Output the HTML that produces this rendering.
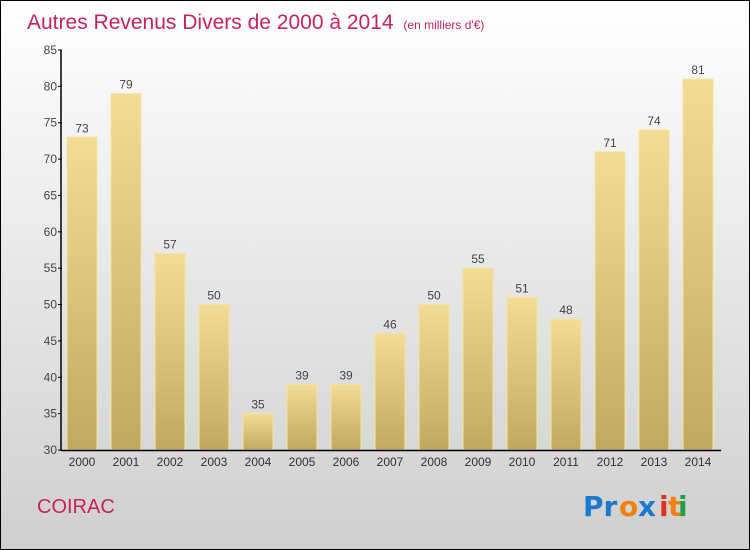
<!DOCTYPE html>
<html><head><meta charset="utf-8"><style>
body{margin:0}
#c{position:relative;width:748px;height:548px;border:1px solid #000;background:linear-gradient(#ffffff,#cfcfcf);font-family:"Liberation Sans",sans-serif;overflow:hidden}
</style></head><body>
<div id="c">
<svg id="s" width="748" height="548" xmlns="http://www.w3.org/2000/svg">
<defs><linearGradient id="g" x1="0" y1="0" x2="0" y2="1"><stop offset="0" stop-color="#f3dc95"/><stop offset="1" stop-color="#c2a962"/></linearGradient></defs>
<text x="26" y="28" font-size="21" fill="#c8245a">Autres Revenus Divers de 2000 à 2014 <tspan font-size="12" dx="4">(en milliers d'€)</tspan></text>
<text x="36" y="512" font-size="20" fill="#c8245a">COIRAC</text>
<g font-size="28" font-weight="bold" font-family="'DejaVu Sans',sans-serif">
<text x="582" y="515" fill="#1a7ad0">Pr</text><text x="618" y="515" fill="#f08010">o</text><text x="637" y="515" fill="#1a7ad0">x</text><text x="658" y="515" fill="#e03020">i</text><text x="667" y="515" fill="#f08010">t</text><text x="677" y="515" fill="#20a040">i</text></g>
<g id="bars"></g><g id="axes"></g>
</svg></div>
<script>
const years=["2000","2001","2002","2003","2004","2005","2006","2007","2008","2009","2010","2011","2012","2013","2014"];
const values=[73,79,57,50,35,39,39,46,50,55,51,48,71,74,81];
const yTicks=[30,35,40,45,50,55,60,65,70,75,80,85];
const NS="http://www.w3.org/2000/svg";
const y0=449,y1=49,vmin=30,vmax=85;
const Y=v=>y0-(v-vmin)/(vmax-vmin)*(y0-y1);
const X=i=>81+i*44;
const bars=document.getElementById('bars'),axes=document.getElementById('axes');
function mk(t,a,p){const e=document.createElementNS(NS,t);for(const k in a)e.setAttribute(k,a[k]);p.appendChild(e);return e;}
values.forEach((v,i)=>{
const r=mk('rect',{x:X(i)-15,y:Y(v),width:30,height:y0-Y(v),fill:'url(#g)',stroke:'#f5e3a0','stroke-width':1},bars);


const t=mk('text',{x:X(i),y:Y(v)-5,'text-anchor':'middle','font-size':12,fill:'#444'},bars);t.textContent=v;


const xl=mk('text',{x:X(i),y:y0+16,'text-anchor':'middle','font-size':12,fill:'#333'},axes);xl.textContent=years[i];


});
const ya=mk('line',{x1:60,y1:y1,x2:60,y2:y0+1,stroke:'#000','stroke-width':1.5},axes);


const xa=mk('line',{x1:60,y1:y0+0.5,x2:720,y2:y0+0.5,stroke:'#000','stroke-width':1.5},axes);


yTicks.forEach(v=>{
mk('line',{x1:57,y1:Y(v),x2:61,y2:Y(v),stroke:'#000'},axes);
const t=mk('text',{x:56,y:Y(v)+4,'text-anchor':'end','font-size':12,fill:'#444'},axes);t.textContent=v;


});
</script>
</body></html>
